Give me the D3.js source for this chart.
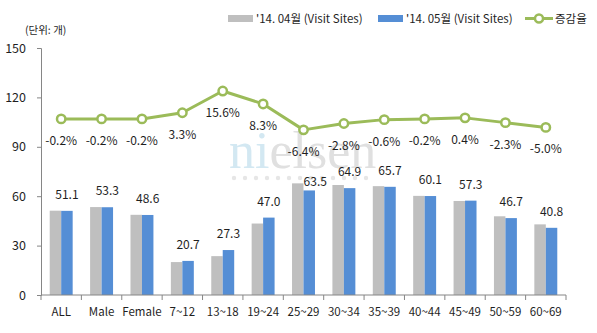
<!DOCTYPE html>
<html>
<head>
<meta charset="utf-8">
<script src="https://cdn.jsdelivr.net/npm/d3@7"></script>
<style>
  html, body { margin: 0; padding: 0; background: #fff; }
  svg { display: block; }
  text { font-family: "Malgun Gothic", "Noto Sans CJK KR", "Noto Sans", sans-serif; fill: #1f1f1f; }
</style>
</head>
<body>
<svg id="chart" width="597" height="333"></svg>
<script>
// Visit sites per person by demographic group, April vs May 2014
const categories = ["ALL", "Male", "Female", "7~12", "13~18", "19~24", "25~29", "30~34", "35~39", "40~44", "45~49", "50~59", "60~69"];
const april = [51.2, 53.4, 48.7, 20.0, 23.6, 43.4, 67.8, 66.8, 66.1, 60.2, 57.1, 47.8, 42.9];
const may = [51.1, 53.3, 48.6, 20.7, 27.3, 47.0, 63.5, 64.9, 65.7, 60.1, 57.3, 46.7, 40.8];
const rate = [-0.2, -0.2, -0.2, 3.3, 15.6, 8.3, -6.4, -2.8, -0.6, -0.2, 0.4, -2.3, -5.0];
const yTicks = [0, 30, 60, 90, 120, 150];
const seriesNames = ["'14. 04월 (Visit Sites)", "'14. 05월 (Visit Sites)", "증감율"];

const colors = { apr: "#BFBFBF", may: "#558ED5", rate: "#9BBB59", axis: "#868686" };

const svg = d3.select("#chart");
const margin = { left: 41, right: 31, top: 48, bottom: 38 };
const W = 597, H = 333;

const x = d3.scaleBand().domain(categories).range([margin.left, W - margin.right]).padding(0);
const xInner = d3.scaleBand().domain(["apr", "may"]).range([0, x.bandwidth()]).paddingInner(0).paddingOuter(0.76);
const y = d3.scaleLinear().domain([0, 150]).range([H - margin.bottom, margin.top]);
// secondary (hidden) scale for the rate line
const y2 = d3.scaleLinear().domain([-100, 40]).range([H - margin.bottom, margin.top]);

// watermark
const wm = svg.append("g").attr("class", "watermark");
const wmText = wm.append("text")
  .attr("x", 229).attr("y", 168)
  .style("font-family", "'Liberation Serif', 'DejaVu Serif', serif")
  .style("font-size", "52px");
wmText.append("tspan").text("ni").style("fill", "#d3e8f2");
wmText.append("tspan").text("elsen").style("fill", "#e0e0e0");
wm.selectAll("circle").data(d3.range(13)).join("circle")
  .attr("cx", i => 234 + i * 11).attr("cy", 178).attr("r", 2.2).attr("fill", "#e6e6e6");

// bars
const groups = svg.append("g").selectAll("g").data(categories).join("g")
  .attr("transform", d => `translate(${x(d)},0)`);
groups.append("rect")
  .attr("x", xInner("apr")).attr("width", xInner.bandwidth())
  .attr("y", (d, i) => y(april[i])).attr("height", (d, i) => y(0) - y(april[i]))
  .attr("fill", colors.apr);
groups.append("rect")
  .attr("x", xInner("may")).attr("width", xInner.bandwidth())
  .attr("y", (d, i) => y(may[i])).attr("height", (d, i) => y(0) - y(may[i]))
  .attr("fill", colors.may);

// axes
const yAxis = d3.axisLeft(y).tickValues(yTicks).tickSize(4).tickPadding(11).tickFormat(d3.format("d"));
const gy = svg.append("g").attr("transform", `translate(${margin.left},0)`).call(yAxis);
gy.select(".domain").attr("stroke", colors.axis);
gy.selectAll(".tick line").attr("stroke", colors.axis);
gy.selectAll(".tick text").style("font-size", "12.5px").style("fill", "#1f1f1f");

const gx = svg.append("g").attr("transform", `translate(0,${y(0)})`);
gx.append("line").attr("x1", margin.left).attr("x2", W - margin.right).attr("stroke", colors.axis);
gx.selectAll("line.sep").data(categories.concat(["_end"])).join("line")
  .attr("class", "sep")
  .attr("x1", (d, i) => margin.left + i * x.step()).attr("x2", (d, i) => margin.left + i * x.step())
  .attr("y1", 0).attr("y2", 5).attr("stroke", colors.axis);
gx.selectAll("text").data(categories).join("text")
  .attr("x", d => x(d) + x.bandwidth() / 2).attr("y", 21)
  .attr("text-anchor", "middle").style("font-size", "11.5px").text(d => d);

// value labels above May bars
const labelNudge = { "25~29": [6, 8] };
svg.append("g").selectAll("text").data(categories).join("text")
  .attr("x", (d, i) => x(d) + xInner("may") + xInner.bandwidth() / 2 + (labelNudge[d] ? labelNudge[d][0] : 0))
  .attr("y", (d, i) => y(may[i]) - 12 + (labelNudge[d] ? labelNudge[d][1] : 0))
  .attr("text-anchor", "middle").style("font-size", "12px")
  .text((d, i) => may[i].toFixed(1));

// rate line
const cx = d => x(d) + x.bandwidth() / 2;
const line = d3.line().x((d, i) => cx(categories[i])).y(d => y2(d));
svg.append("path").datum(rate).attr("d", line)
  .attr("fill", "none").attr("stroke", colors.rate).attr("stroke-width", 3).attr("stroke-linejoin", "round");
svg.append("g").selectAll("circle").data(rate).join("circle")
  .attr("cx", (d, i) => cx(categories[i])).attr("cy", d => y2(d)).attr("r", 4.2)
  .attr("fill", "#fff").attr("stroke", colors.rate).attr("stroke-width", 2.5);
svg.append("g").selectAll("text").data(rate).join("text")
  .attr("x", (d, i) => cx(categories[i])).attr("y", d => y2(d) + 26)
  .attr("text-anchor", "middle").style("font-size", "12px")
  .text(d => d.toFixed(1) + "%");

// unit note
svg.append("text").attr("x", 25).attr("y", 34).style("font-size", "10.5px").text("(단위: 개)");

// legend
const lg = svg.append("g").attr("transform", "translate(0,18.5)");
lg.append("rect").attr("x", 228).attr("y", -3.5).attr("width", 25).attr("height", 7).attr("fill", colors.apr);
lg.append("text").attr("x", 256).attr("y", 4).style("font-size", "11.5px").text(seriesNames[0]);
lg.append("rect").attr("x", 378).attr("y", -3.5).attr("width", 25).attr("height", 7).attr("fill", colors.may);
lg.append("text").attr("x", 406).attr("y", 4).style("font-size", "11.5px").text(seriesNames[1]);
lg.append("line").attr("x1", 525).attr("x2", 553).attr("y1", 0).attr("y2", 0).attr("stroke", colors.rate).attr("stroke-width", 3);
lg.append("circle").attr("cx", 539).attr("cy", 0).attr("r", 4).attr("fill", "#fff").attr("stroke", colors.rate).attr("stroke-width", 2.5);
lg.append("text").attr("x", 555).attr("y", 4).style("font-size", "11.5px").text(seriesNames[2]);
</script>
</body>
</html>
